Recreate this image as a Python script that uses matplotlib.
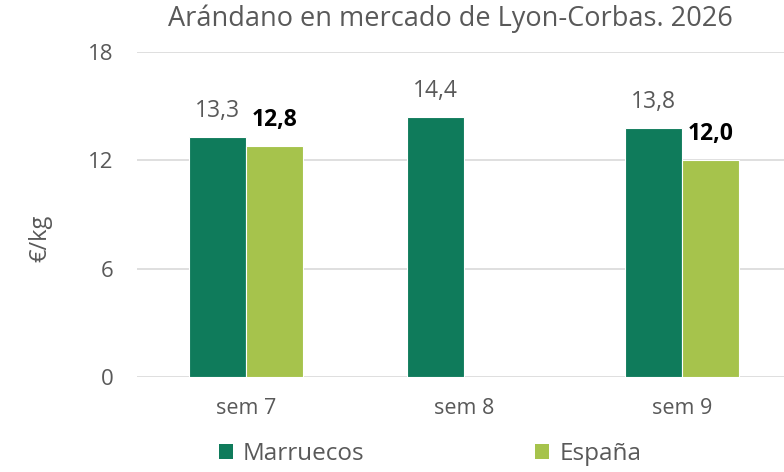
import matplotlib
matplotlib.use("Agg")
import matplotlib.pyplot as plt
import numpy as np
from matplotlib.patches import Patch

categories = ["sem 7", "sem 8", "sem 9"]
marruecos = [13.3, 14.4, 13.8]
espana = [12.8, np.nan, 12.0]
series_names = ["Marruecos", "España"]
yticks = [0, 6, 12, 18]
title = "Arándano en mercado de Lyon-Corbas. 2026"
ylabel = "€/kg"

c_mar = "#0F7B5B"
c_esp = "#A6C34C"
gray = "#595959"
font = "Open Sans"
plt.rcParams['font.family'] = [font, 'DejaVu Sans']

fig = plt.figure(figsize=(7.84, 4.72), dpi=100)
ax = fig.add_axes([137/784, 95/472, 1 - 137/784, 325/472])

x = np.arange(len(categories))
w = 0.26
off = 0.131
b1 = ax.bar(x - off, marruecos, w, color=c_mar, edgecolor="white", linewidth=0.8, zorder=3)
b2 = ax.bar(x + off, espana, w, color=c_esp, edgecolor="white", linewidth=0.8, zorder=3)

for xi, v in zip(x - off, marruecos):
    ax.annotate(f"{v:.1f}".replace(".", ","), (xi, v), xytext=(0, 20),
                textcoords="offset pixels", ha="center", va="baseline",
                fontsize=16.5, color=gray)
for xi, v in zip(x + off, espana):
    if np.isnan(v):
        continue
    ax.annotate(f"{v:.1f}".replace(".", ","), (xi, v), xytext=(0, 20),
                textcoords="offset pixels", ha="center", va="baseline",
                fontsize=16.5, color="black", fontweight="bold")

ax.set_ylim(0, 18)
ax.set_yticks(yticks)
ax.set_yticklabels([str(t) for t in yticks])
ax.set_xlim(-0.5, (784 - 246) / 218)
ax.set_xticks(x)
ax.set_xticklabels(categories)
ax.yaxis.grid(True, color="#D9D9D9", linewidth=1.2, zorder=0)
ax.set_axisbelow(True)
for s in ax.spines.values():
    s.set_visible(False)
ax.tick_params(axis="both", length=0, colors=gray)
ax.tick_params(axis="y", labelsize=16, pad=17)
ax.tick_params(axis="x", labelsize=15.5, pad=15)

fig.text(40/784, 1 - 238/472, ylabel, rotation=90, ha="center", va="center",
         fontsize=17, color=gray)
fig.text(450/784, 1 - 19/472, title, ha="center", va="center",
         fontsize=19.5, color=gray)

handles = [Patch(facecolor=c_mar), Patch(facecolor=c_esp)]
fig.legend(handles, series_names, loc="center", bbox_to_anchor=(430/784, 1 - 454/472),
           ncol=2, frameon=False, fontsize=17.5, handlelength=0.6, handleheight=0.6,
           handletextpad=0.4, columnspacing=7.0, labelcolor=gray, borderpad=0)

fig.savefig("out.png", dpi=100)
